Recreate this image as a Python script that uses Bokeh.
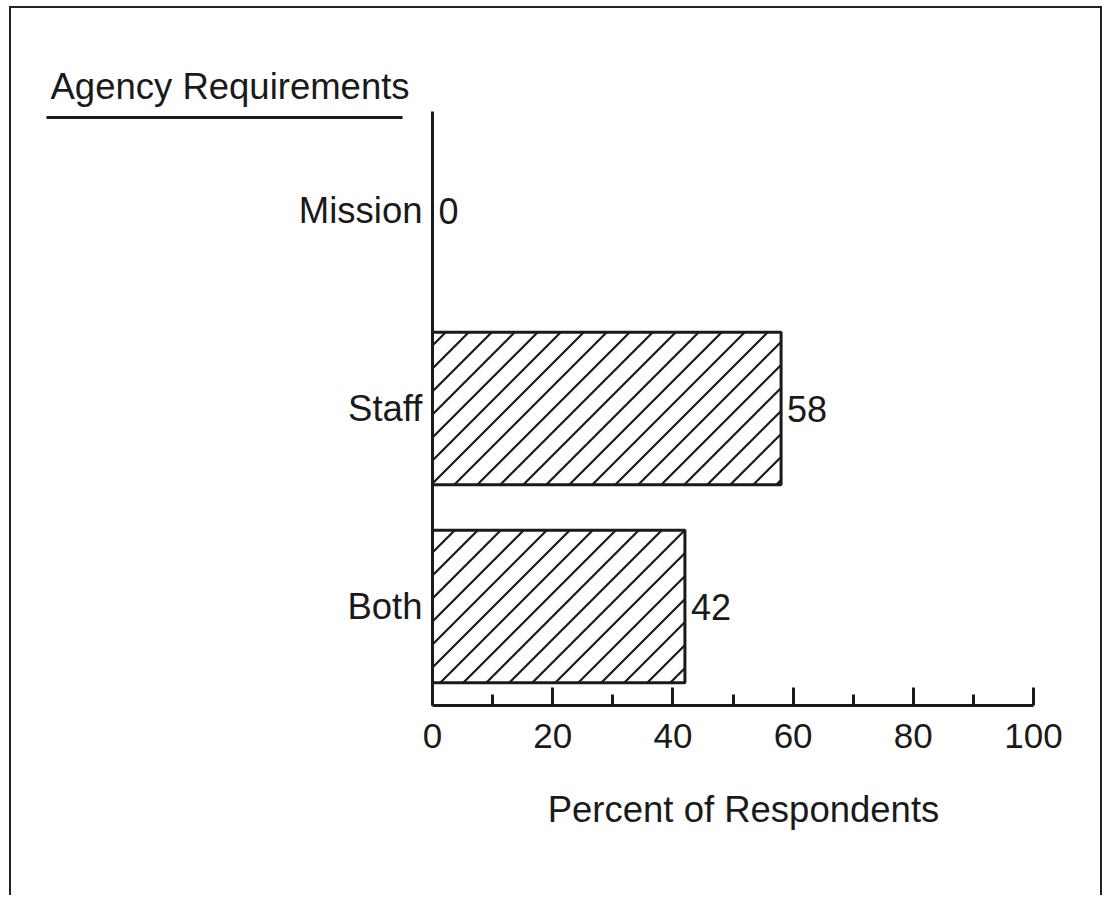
from bokeh.plotting import figure
from bokeh.models import (Range1d, FixedTicker, Label, LinearAxis,
                          ColumnDataSource, CanvasTexture)
from bokeh.core.properties import value
from bokeh.embed import file_html
from bokeh.resources import INLINE

# ---- data ----
categories = ["Both", "Staff", "Mission"]
percents = [42, 58, 0]
value_labels = ["42", "58", "0"]
x_ticks = [0, 20, 40, 60, 80, 100]
x_minor_ticks = [10, 30, 50, 70, 90]
title_text = "Agency Requirements"
x_title = "Percent of Respondents"

# ---- style / layout ----
FONT = "Liberation Sans"
INK = "#1a1a1a"
FS = "35px"
FS_CAT = "36.5px"

CANVAS_W, CANVAS_H = 1093, 889
CANVAS_X0, CANVAS_Y0 = 11, 8          # page position of the canvas
AXIS_X_PX, AXIS_Y_PX = 432, 705        # page position of the axes' origin
PX_PER_PCT = 6.01                      # horizontal scale
PX_PER_CAT = 198                       # vertical spacing of categories


def dx(px):
    return (px - AXIS_X_PX) / PX_PER_PCT


def dy(py):
    return (AXIS_Y_PX - py) / PX_PER_CAT


positions = [i + 0.5 for i in range(len(categories))]
src = ColumnDataSource(dict(pos=positions, pct=percents, lbl=value_labels))

p = figure(
    width=CANVAS_W, height=CANVAS_H,
    x_range=Range1d(dx(CANVAS_X0), dx(CANVAS_X0 + CANVAS_W)),
    y_range=Range1d(dy(CANVAS_Y0 + CANVAS_H), dy(CANVAS_Y0)),
    x_axis_location=None, y_axis_location=None,
    output_backend="svg", toolbar_location=None,
    min_border=0,
    background_fill_color="white", border_fill_color="white",
)
p.styles = {
    "margin-left": "9px",
    "margin-top": "6px",
    "border-left": "2px solid #222",
    "border-top": "2px solid #222",
    "border-right": "2px solid #222",
}
p.outline_line_color = None
p.grid.visible = False

# 45-degree diagonal hatch texture, 23 px tile
diag = CanvasTexture(code="""
const s = 23;
const c = ctx.canvas;
if (c) { c.width = s; c.height = s; }
ctx.setTransform(1, 0, 0, 1, 0, 0);
ctx.clearRect(0, 0, s, s);
ctx.strokeStyle = '#1a1a1a';
ctx.lineWidth = 2.2;
ctx.lineCap = 'butt';
ctx.beginPath();
ctx.moveTo(0, s); ctx.lineTo(s, 0);
ctx.moveTo(-s, s); ctx.lineTo(s, -s);
ctx.moveTo(0, 2*s); ctx.lineTo(2*s, 0);
ctx.stroke();
""", repetition="repeat")

p.hbar(y="pos", left=0, right="pct", height=0.77, source=src,
       fill_color="white", line_color=INK, line_width=3,
       hatch_pattern=value("diag"), hatch_extra={"diag": diag},
       hatch_color=INK, hatch_weight=2, hatch_scale=23)

p.text(x="pct", y="pos", text="lbl", source=src, x_offset=6,
       text_baseline="middle", text_align="left",
       text_font=value(FONT), text_font_size="36px", text_color=INK)

# x axis (fixed at y = 0, spanning 0..100)
xa = LinearAxis(fixed_location=0, bounds=(0, 100),
                ticker=FixedTicker(ticks=x_ticks, minor_ticks=x_minor_ticks))
xa.axis_line_width = 3
xa.axis_line_color = INK
xa.major_tick_in = 18
xa.major_tick_out = 0
xa.minor_tick_in = 11
xa.minor_tick_out = 0
xa.major_tick_line_width = 3
xa.minor_tick_line_width = 3
xa.major_tick_line_color = INK
xa.minor_tick_line_color = INK
xa.major_label_text_font = FONT
xa.major_label_text_font_size = FS
xa.major_label_text_color = INK
xa.major_label_standoff = 18
p.add_layout(xa, "below")

# y axis (fixed at x = 0) with category names
ya = LinearAxis(fixed_location=0, bounds=(0, len(categories)),
                ticker=FixedTicker(ticks=positions, minor_ticks=[]))
ya.major_label_overrides = {pos: cat for pos, cat in zip(positions, categories)}
ya.axis_line_width = 3
ya.axis_line_color = INK
ya.major_tick_in = 0
ya.major_tick_out = 0
ya.major_tick_line_color = None
ya.minor_tick_line_color = None
ya.major_label_text_font = FONT
ya.major_label_text_font_size = FS_CAT
ya.major_label_text_color = INK
ya.major_label_standoff = 10
p.add_layout(ya, "left")

# x-axis title
p.add_layout(Label(x=dx(743), y=dy(809), text=x_title,
                   text_align="center", text_baseline="alphabetic",
                   text_font=FONT, text_font_size=FS_CAT, text_color=INK))

# title with underline (top-left)
p.add_layout(Label(x=dx(50), y=dy(86), text=title_text,
                   text_align="left", text_baseline="alphabetic",
                   text_font=FONT, text_font_size="36.5px", text_color=INK))
p.segment(x0=[dx(46)], y0=[dy(117)], x1=[dx(402)], y1=[dy(117)],
          line_color=INK, line_width=3)

open("out.html", "w").write(file_html(p, INLINE))
